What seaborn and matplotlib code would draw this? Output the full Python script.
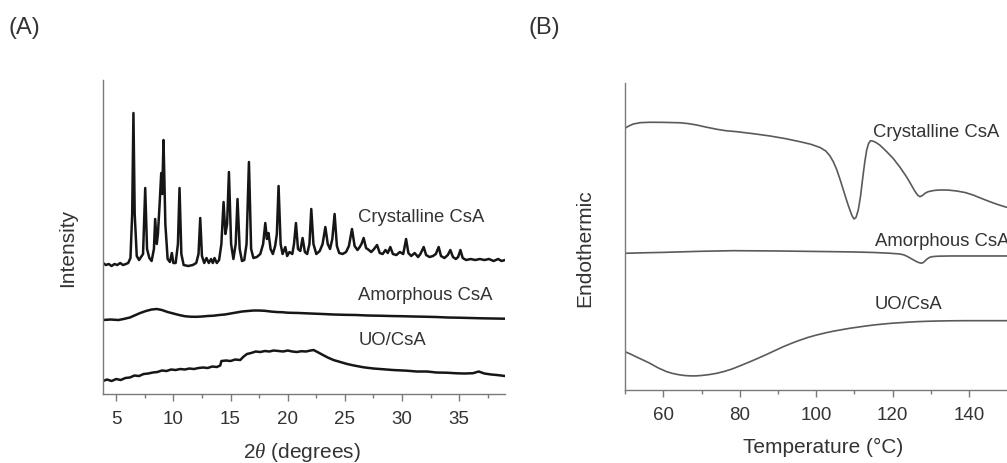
import matplotlib
matplotlib.use("Agg")
import matplotlib.pyplot as plt
from matplotlib.ticker import MultipleLocator
import seaborn as sns
import pandas as pd

# ---------------- (A) powder X-ray diffraction ----------------
two_theta_crystalline = [
    3.85, 4.1, 4.35, 4.6, 4.85, 5.1, 5.35, 5.6, 5.85, 6.05, 6.25,
    6.4, 6.51, 6.62, 6.8, 7.0,
    7.35, 7.54, 7.7, 7.9, 8.1,
    8.3, 8.41, 8.55, 8.65, 8.8, 8.94, 9.03, 9.14, 9.3, 9.5, 9.7,
    9.87, 10.0, 10.2, 10.4, 10.54, 10.7, 10.9, 11.3, 11.7, 12.0,
    12.2, 12.35, 12.5, 12.7, 12.9, 13.1, 13.3, 13.45, 13.6, 13.8,
    14.0, 14.2, 14.39, 14.55, 14.7, 14.86, 15.05, 15.25, 15.45, 15.61, 15.8, 16.0,
    16.2, 16.4, 16.61, 16.8, 17.0, 17.3, 17.6,
    17.85, 18.04, 18.18, 18.32, 18.5, 18.7, 18.9, 19.05, 19.2, 19.38, 19.55,
    19.79, 19.95, 20.15, 20.4, 20.55, 20.72, 20.9, 21.1, 21.3, 21.5, 21.7,
    21.9, 22.06, 22.25, 22.5, 22.8, 23.05, 23.29, 23.5, 23.7, 23.9, 24.1,
    24.3, 24.5, 24.8, 25.1, 25.35, 25.62, 25.85, 26.1, 26.3, 26.45, 26.64,
    26.85, 27.1, 27.3, 27.55, 27.81, 28.05, 28.3, 28.55, 28.75, 28.97, 29.2,
    29.5, 29.8, 30.1, 30.35, 30.55, 30.8, 31.1, 31.4, 31.6, 31.89, 32.1,
    32.4, 32.7, 32.95, 33.2, 33.4, 33.7, 34.0, 34.22, 34.45, 34.7, 34.9,
    35.1, 35.3, 35.6, 36.0, 36.4, 36.8, 37.2, 37.6, 38.0, 38.4, 38.7, 39.0,
]
intensity_crystalline = [
    131, 129, 130, 128, 130, 129, 131, 129, 130, 131, 136,
    180, 281, 180, 138, 134,
    140, 206, 145, 136, 133,
    145, 175, 150, 160, 190, 221, 200, 254, 170, 135, 132,
    141, 131, 131, 150, 206, 140, 129, 128, 129, 131,
    140, 176, 138, 131, 136, 131, 135, 131, 136, 131,
    134, 150, 192, 160, 170, 222, 150, 135, 150, 195, 145, 133,
    134, 150, 232, 145, 136, 137, 140,
    150, 171, 155, 161, 145, 140, 148, 160, 208, 150, 140,
    147, 138, 142, 140, 150, 171, 145, 143, 156, 142, 140,
    150, 185, 150, 140, 143, 150, 167, 150, 145, 155, 180,
    148, 141, 140, 142, 148, 165, 148, 144, 147, 150, 156,
    146, 144, 142, 145, 149, 141, 140, 144, 141, 147, 140,
    139, 142, 140, 155, 141, 138, 141, 137, 140, 147, 139,
    137, 138, 140, 147, 138, 136, 139, 144, 137, 135, 137,
    144, 136, 134, 135, 134, 135, 134, 135, 133, 135, 133, 134,
]

two_theta_amorphous = [
    3.85, 4.5, 5.2, 5.64, 6.2, 6.6, 7.1, 7.6, 8.1, 8.56, 9.0, 9.5, 10.0,
    10.5, 11.0, 11.47, 12.0, 12.5, 13.0, 13.5, 14.0, 14.5, 15.0, 15.5,
    16.0, 16.5, 17.0, 17.5, 18.0, 18.5, 19.0, 19.5, 20.0, 21.0, 22.0,
    23.1, 24.0, 25.0, 26.0, 27.0, 28.0, 29.0, 30.0, 31.0, 31.9, 33.0,
    34.0, 35.0, 36.0, 37.0, 38.0, 39.0,
]
intensity_amorphous = [
    74, 74.5, 74, 75, 76.5, 78.5, 81, 83, 84.5, 85, 84, 82, 80.5,
    79, 77.8, 77.3, 77.2, 77.5, 78, 78.3, 79, 79.5, 80.5, 81.5,
    82.5, 83, 83.5, 83.5, 83.2, 82.5, 82, 81.8, 81.3, 81, 80.5,
    80, 79.5, 79.2, 79, 78.5, 78.3, 78, 77.8, 77.5, 77.3, 77,
    76.5, 76.3, 76, 75.7, 75.5, 75.3,
]

two_theta_uo = [
    3.85, 4.2, 4.6, 5.0, 5.4, 5.8, 6.2, 6.6, 7.0, 7.4, 7.8, 8.2, 8.6,
    9.0, 9.4, 9.8, 10.2, 10.6, 11.0, 11.4, 11.8, 12.2, 12.6, 13.0, 13.4,
    13.8, 14.1, 14.2, 14.6, 15.0, 15.4, 15.85, 16.1, 16.43, 16.8, 17.2,
    17.6, 18.0, 18.4, 18.76, 19.2, 19.6, 20.0, 20.4, 20.8, 21.2, 21.6,
    22.0, 22.26, 22.6, 23.0, 23.5, 24.0, 24.6, 25.2, 25.8, 26.64, 27.5,
    28.3, 29.2, 30.43, 31.3, 32.2, 33.0, 33.9, 34.8, 35.5, 36.2, 36.7,
    37.2, 37.8, 38.3, 39.0,
]
intensity_uo = [
    13, 14.5, 13, 15, 14, 16, 16.5, 18.5, 18, 20, 20.5, 21.5, 22,
    23.5, 23, 24.5, 24, 25, 24.5, 25.5, 25, 26, 26.5, 26, 27.5,
    27, 28.5, 33, 33.5, 33, 34.5, 34, 37, 40, 41, 42.5,
    42, 43, 42.5, 43.5, 43, 42.5, 43.5, 42.5, 42, 42.8, 42.5,
    43.5, 44, 42, 39.5, 36.5, 34, 32, 30, 28.5, 26.7, 25.5,
    24.8, 24, 23.3, 22.5, 22.5, 21.5, 21.3, 20.7, 20.5, 20.8, 22.5,
    20.5, 19.5, 19, 18,
]

# ---------------- (B) differential scanning calorimetry ----------------
temp_crystalline = [
    50, 51, 52.2, 54, 56.5, 60, 64.4, 66.5, 68.7, 71, 74, 76.5, 79.2,
    83.5, 87.9, 92, 95.7, 98.5, 101, 102.5, 103.6, 104.5, 105.3, 106.2,
    107.1, 108, 108.8, 109.4, 109.9, 110.4, 111, 111.6, 112.1, 112.7,
    113.2, 113.7, 114.2, 114.9, 115.7, 116.6, 118.3, 120.1, 121.9, 123.6,
    124.8, 125.8, 126.5, 127.1, 127.8, 128.5, 129.3, 130.8, 132.3, 134.5,
    136.7, 139, 141, 143.2, 145.4, 147.6, 149.8,
]
heat_flow_crystalline = [
    261.7, 264, 266, 267.3, 267.7, 267.6, 267.2, 266.4, 265, 263, 260.7, 259.2, 258.3,
    256.3, 254, 251.3, 248.3, 245.8, 242.5, 239, 234, 228, 221, 211,
    200, 189, 180, 174, 171, 172.5, 180, 194, 210, 228,
    240, 246.5, 249.3, 248.8, 247.3, 245, 238.8, 231.7, 222.8, 213.3,
    205.5, 198.8, 195, 193.3, 194.5, 196.8, 198.3, 199.5, 200, 199.9,
    199, 197.4, 195, 191.6, 188.3, 185.3, 182.7,
]

temp_amorphous = [
    50, 55, 60, 70, 78.3, 90, 104.4, 110, 115, 119, 121.9, 123, 124, 125,
    125.8, 126.6, 127.4, 127.9, 128.4, 129, 129.7, 130.5, 132, 135, 140,
    145, 149.8,
]
heat_flow_amorphous = [
    136.7, 137.2, 137.6, 138.7, 139.3, 139, 138.3, 138, 137.5, 136.8, 136, 135, 133.2, 131,
    129.3, 127.7, 126.8, 127.2, 128.8, 131, 132.7, 133.4, 133.8, 134, 134,
    134, 134,
]

temp_uo = [
    50, 51.5, 53, 54.7, 56.5, 58.6, 60.9, 62.5, 64, 65.5, 67, 68.5, 70,
    72, 74, 76, 78, 80.3, 82.7, 84.9, 87, 89.2, 91.4, 93.5, 95.5, 97.8,
    100.1, 102.3, 104.5, 106.7, 108.8, 111, 113, 115.3, 117.6, 120, 122,
    124, 126.3, 129, 132, 135.5, 139.3, 144.5, 149.8,
]
heat_flow_uo = [
    38.3, 35.8, 33, 30, 26.7, 22.2, 18.3, 16.5, 15.3, 14.5, 14.1, 14.1, 14.5,
    15.4, 16.7, 18.6, 21, 24.5, 28.3, 31.9, 35.5, 39.4, 43.3, 46.6, 49.5, 52.5,
    55, 57, 58.8, 60.3, 61.7, 62.9, 64, 65.1, 66, 66.8, 67.3,
    67.8, 68.3, 68.7, 69, 69.2, 69.3, 69.3, 69.3,
]

xrd_ticks = [5, 10, 15, 20, 25, 30, 35]
dsc_ticks = [60, 80, 100, 120, 140]
sample_names = ["Crystalline CsA", "Amorphous CsA", "UO/CsA"]

sns.set_theme(style="ticks")
plt.rcParams["font.family"] = ["Liberation Sans", "DejaVu Sans"]
plt.rcParams["mathtext.fontset"] = "custom"
plt.rcParams["mathtext.it"] = "Liberation Serif:italic"
plt.rcParams["mathtext.rm"] = "Liberation Sans"

text_color = "#333333"
spine_color = "#7a7a7a"

fig = plt.figure(figsize=(10.07, 4.63), dpi=100)
ax_a = fig.add_axes([0.1023, 0.1490, 0.3992, 0.6782])
ax_b = fig.add_axes([0.6207, 0.1577, 0.3793, 0.6631])

xrd = [
    (two_theta_crystalline, intensity_crystalline),
    (two_theta_amorphous, intensity_amorphous),
    (two_theta_uo, intensity_uo),
]
for x, y in xrd:
    df = pd.DataFrame({"two_theta": x, "intensity": y})
    sns.lineplot(data=df, x="two_theta", y="intensity", ax=ax_a, sort=False,
                 estimator=None, color="#161616", lw=1.8)

dsc = [
    (temp_crystalline, heat_flow_crystalline),
    (temp_amorphous, heat_flow_amorphous),
    (temp_uo, heat_flow_uo),
]
for x, y in dsc:
    df = pd.DataFrame({"temperature": x, "heat_flow": y})
    sns.lineplot(data=df, x="temperature", y="heat_flow", ax=ax_b, sort=False,
                 estimator=None, color="#5a5a5a", lw=1.2)

ax_a.set_xlim(3.85, 39.0)
ax_a.set_ylim(0, 314)
ax_b.set_xlim(50, 149.9)
ax_b.set_ylim(0, 307)

for ax, major, minor in ((ax_a, xrd_ticks, 2.5), (ax_b, dsc_ticks, 10)):
    ax.set_xticks(major)
    ax.set_xticklabels([str(t) for t in major])
    ax.xaxis.set_minor_locator(MultipleLocator(minor))
    ax.set_yticks([])
    sns.despine(ax=ax)
    for side in ("left", "bottom"):
        ax.spines[side].set_color(spine_color)
        ax.spines[side].set_linewidth(1.0)
    ax.tick_params(axis="x", which="major", direction="out", length=5, width=1.0,
                   color=spine_color, labelsize=13.5, labelcolor=text_color, pad=7)
    ax.tick_params(axis="x", which="minor", direction="out", length=3, width=1.0,
                   color=spine_color)

# sample labels
label_y_a = [177, 99, 54]
for name, yy in zip(sample_names, label_y_a):
    ax_a.text(26.17, yy, name, fontsize=13.3, color=text_color, va="center", ha="left")
label_x_b = [114.8, 115.3, 115.3]
label_y_b = [257, 148, 85]
for name, xx, yy in zip(sample_names, label_x_b, label_y_b):
    ax_b.text(xx, yy, name, fontsize=13.3, color=text_color, va="center", ha="left",
              clip_on=False)

ax_a.set_xlabel(r"2$\theta$ (degrees)", fontsize=15, color=text_color)
ax_a.xaxis.set_label_coords(0.494, -0.185)
ax_a.xaxis.label.set_va("center")
ax_a.set_ylabel("Intensity", fontsize=15, color=text_color)
ax_a.yaxis.set_label_coords(-0.087, 0.465)
ax_a.yaxis.label.set_va("center")

ax_b.set_xlabel("Temperature (°C)", fontsize=15, color=text_color)
ax_b.xaxis.set_label_coords(0.518, -0.186)
ax_b.xaxis.label.set_va("center")
ax_b.set_ylabel("Endothermic", fontsize=15, color=text_color)
ax_b.yaxis.set_label_coords(-0.105, 0.461)
ax_b.yaxis.label.set_va("center")

fig.text(8 / 1007, 1 - 28 / 463, "(A)", fontsize=17, color=text_color, va="center", ha="left")
fig.text(529 / 1007, 1 - 28 / 463, "(B)", fontsize=17, color=text_color, va="center", ha="left")

fig.savefig("out.png", dpi=100, facecolor="white")
